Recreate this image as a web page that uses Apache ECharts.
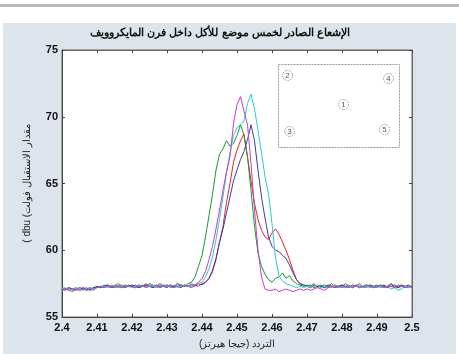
<!DOCTYPE html>
<html>
<head>
<meta charset="utf-8">
<script src="https://cdn.jsdelivr.net/npm/echarts@6/dist/echarts.min.js"></script>
<style>html,body{margin:0;padding:0;background:#fff}#c{width:459px;height:354px}</style>
</head>
<body>
<div id="c"></div>
<script>
var titleText = 'الإشعاع الصادر لخمس موضع للأكل داخل فرن المايكروويف';
var xName = 'التردد (جيجا هيرتز)';
var yName = '\u202Bمقدار الاستقبال فولت) dbu )\u202C';
var xTickLabels = ['2.4','2.41','2.42','2.43','2.44','2.45','2.46','2.47','2.48','2.49','2.5'];
var yTickLabels = ['55','60','65','70','75'];
var freqStart = 2.400, freqStep = 0.001;

var red = [57.1,57.0,57.2,57.1,57.0,57.1,57.2,57.1,57.0,57.2,
57.2,57.3,57.2,57.4,57.3,57.2,57.3,57.4,57.2,57.3,
57.3,57.4,57.2,57.3,57.5,57.3,57.2,57.4,57.3,57.3,
57.4,57.2,57.3,57.5,57.3,57.4,57.3,57.2,57.4,57.3,
57.5,57.6,57.9,58.4,59.3,60.6,61.8,63.6,65.0,66.6,
67.5,68.2,68.7,67.0,65.2,63.5,62.3,61.5,61.0,60.8,
61.3,61.6,61.2,60.6,60.0,59.3,58.5,57.8,57.5,57.4,
57.3,57.4,57.2,57.3,57.4,57.2,57.3,57.5,57.3,57.2,
57.4,57.3,57.2,57.4,57.3,57.5,57.2,57.3,57.4,57.3,
57.2,57.4,57.3,57.2,57.5,57.3,57.2,57.4,57.3,57.2,57.3];

var green = [57.2,57.1,57.0,57.1,57.2,57.0,57.1,57.1,57.2,57.0,
57.3,57.2,57.4,57.3,57.2,57.3,57.5,57.3,57.2,57.4,
57.3,57.2,57.4,57.3,57.3,57.5,57.4,57.2,57.3,57.4,
57.3,57.4,57.2,57.5,57.4,57.3,57.5,57.6,58.0,58.8,
59.6,61.0,62.6,64.2,66.0,67.2,67.6,68.2,67.8,68.0,
68.6,69.4,68.6,67.0,64.5,61.8,59.8,58.8,58.2,57.8,
57.6,57.9,58.0,58.3,57.9,58.1,57.7,57.5,57.4,57.3,
57.4,57.3,57.5,57.2,57.3,57.4,57.3,57.2,57.4,57.3,
57.3,57.5,57.3,57.2,57.4,57.3,57.3,57.2,57.4,57.3,
57.4,57.2,57.3,57.3,57.5,57.2,57.3,57.4,57.2,57.3,57.3];

var blue = [57.0,57.1,57.2,57.0,57.1,57.2,57.1,57.0,57.1,57.2,
57.3,57.2,57.3,57.4,57.2,57.3,57.3,57.2,57.4,57.3,
57.4,57.3,57.2,57.3,57.4,57.3,57.2,57.3,57.5,57.3,
57.2,57.4,57.3,57.3,57.2,57.4,57.3,57.4,57.3,57.5,
57.4,57.6,57.9,58.5,59.4,60.6,61.6,62.8,64.0,65.2,
66.0,66.8,67.4,68.3,69.4,68.2,66.0,64.0,62.4,61.0,
60.3,60.0,59.9,59.6,59.4,58.9,58.3,57.8,57.5,57.4,
57.3,57.2,57.4,57.3,57.3,57.2,57.4,57.3,57.2,57.3,
57.4,57.2,57.3,57.3,57.4,57.2,57.3,57.4,57.3,57.2,
57.3,57.3,57.4,57.2,57.3,57.4,57.2,57.3,57.3,57.4,57.2];

var cyan = [57.1,57.2,57.0,57.1,57.1,57.2,57.0,57.1,57.2,57.1,
57.2,57.3,57.3,57.2,57.4,57.3,57.2,57.3,57.4,57.3,
57.2,57.3,57.4,57.3,57.2,57.4,57.3,57.3,57.2,57.4,
57.3,57.3,57.4,57.2,57.3,57.4,57.3,57.3,57.4,57.5,
57.6,58.0,58.6,59.5,60.8,62.3,64.0,65.8,67.3,68.6,
69.2,69.4,69.7,71.0,71.7,70.6,69.0,67.3,65.5,64.2,
62.0,59.4,58.1,57.7,57.5,57.4,57.3,57.2,57.3,57.2,
57.3,57.2,57.3,57.4,57.2,57.3,57.2,57.3,57.4,57.2,
57.3,57.2,57.3,57.2,57.4,57.3,57.2,57.3,57.2,57.3,
57.2,57.3,57.2,57.3,57.1,57.2,57.0,57.1,57.3,57.2,57.3];

var magenta = [57.0,57.1,57.0,56.9,57.1,57.0,57.1,57.2,57.0,57.1,
57.2,57.3,57.2,57.3,57.2,57.4,57.3,57.2,57.3,57.3,
57.3,57.2,57.3,57.4,57.2,57.3,57.3,57.4,57.2,57.3,
57.4,57.3,57.2,57.3,57.4,57.3,57.3,57.5,57.4,57.6,
57.9,58.4,59.3,60.3,61.6,63.0,64.5,65.9,67.0,69.5,
70.9,71.5,70.4,69.4,66.5,63.0,60.0,58.0,57.1,57.0,
57.0,57.1,56.9,57.0,57.1,57.0,56.9,57.0,57.1,57.0,
57.1,57.0,57.1,57.2,57.1,57.0,57.2,57.3,57.2,57.3,
57.2,57.3,57.4,57.2,57.3,57.2,57.3,57.4,57.3,57.2,
57.3,57.4,57.2,57.3,57.3,57.2,57.4,57.3,57.2,57.3,57.3];

var seriesList = [
  {name:'red', data:red, color:'#ee2020'},
  {name:'green', data:green, color:'#1a9a2a'},
  {name:'blue', data:blue, color:'#3a3ab8'},
  {name:'cyan', data:cyan, color:'#30c8cc'},
  {name:'magenta', data:magenta, color:'#c040c8'}
];

function pairs(arr){
  return arr.map(function(v,i){ return [+(freqStart + i*freqStep).toFixed(3), v]; });
}

var chart = echarts.init(document.getElementById('c'), null, {renderer:'canvas'});
var F = 'Liberation Sans, Arial, sans-serif';
var GL = 62, GT = 50, GW = 350, GH = 274;
var xLabelFmt = function(v){ var i = Math.round((v - 2.4)/0.01); return xTickLabels[i] || ''; };
var yLabelFmt = function(v){ var i = Math.round((v - 55)/5); return yTickLabels[i] || ''; };

chart.setOption({
  backgroundColor:'#ffffff',
  animation:false,
  graphic:[
    {type:'rect', z:-10, shape:{x:0,y:4,width:459,height:3}, style:{fill:'#b8b8b8'}},
    {type:'rect', z:-10, shape:{x:3,y:23,width:453,height:331}, style:{fill:'#dee4eb'}},
    {type:'text', x:220, y:33, style:{text:titleText, font:'bold 11px '+F, fill:'#111', align:'center', verticalAlign:'middle'}},
    {type:'group', left:278, top:64, z:100, children:[
      {type:'rect', shape:{x:0,y:0,width:121,height:83}, style:{fill:'#fff', stroke:'#999', lineDash:[2,1], lineWidth:1}},
      {type:'circle', shape:{cx:9,cy:11,r:5}, style:{fill:'#fff', stroke:'#888', lineDash:[1,1]}},
      {type:'text', x:9, y:11, style:{text:'2', font:'8px '+F, fill:'#555', align:'center', verticalAlign:'middle'}},
      {type:'circle', shape:{cx:110,cy:14,r:5}, style:{fill:'#fff', stroke:'#888', lineDash:[1,1]}},
      {type:'text', x:110, y:14, style:{text:'4', font:'8px '+F, fill:'#555', align:'center', verticalAlign:'middle'}},
      {type:'circle', shape:{cx:65,cy:40,r:5}, style:{fill:'#fff', stroke:'#888', lineDash:[1,1]}},
      {type:'text', x:65, y:40, style:{text:'1', font:'8px '+F, fill:'#555', align:'center', verticalAlign:'middle'}},
      {type:'circle', shape:{cx:11,cy:67,r:5}, style:{fill:'#fff', stroke:'#888', lineDash:[1,1]}},
      {type:'text', x:11, y:67, style:{text:'3', font:'8px '+F, fill:'#555', align:'center', verticalAlign:'middle'}},
      {type:'circle', shape:{cx:106,cy:65,r:5}, style:{fill:'#fff', stroke:'#888', lineDash:[1,1]}},
      {type:'text', x:106, y:65, style:{text:'5', font:'8px '+F, fill:'#555', align:'center', verticalAlign:'middle'}}
    ]}
  ],
  grid:{left:GL, top:GT, width:GW, height:GH, show:true, backgroundColor:'#ffffff', borderColor:'#666', borderWidth:1},
  xAxis:[
    {type:'value', min:2.4, max:2.5, interval:0.01, position:'bottom',
     name:xName, nameLocation:'middle', nameGap:22,
     nameTextStyle:{fontSize:10, color:'#222', fontFamily:F},
     axisLine:{show:true, lineStyle:{color:'#444', width:1}},
     axisTick:{show:true, inside:true, length:3, lineStyle:{color:'#444'}},
     axisLabel:{formatter:xLabelFmt, fontWeight:'bold', fontSize:11, fontFamily:F, color:'#111', margin:5, showMinLabel:true, showMaxLabel:true},
     splitLine:{show:false}},
    {type:'value', min:2.4, max:2.5, interval:0.01, position:'top',
     axisLine:{show:true, lineStyle:{color:'#666'}},
     axisTick:{show:true, inside:true, length:3, lineStyle:{color:'#444'}},
     axisLabel:{show:false}, splitLine:{show:false}}
  ],
  yAxis:[
    {type:'value', min:55, max:75, interval:5, position:'left',
     name:yName, nameLocation:'middle', nameGap:30, nameRotate:90,
     nameTextStyle:{fontSize:10, color:'#222', fontFamily:F},
     axisLine:{show:true, lineStyle:{color:'#444'}},
     axisTick:{show:true, inside:true, length:3, lineStyle:{color:'#444'}},
     axisLabel:{formatter:yLabelFmt, fontWeight:'bold', fontSize:11, fontFamily:F, color:'#111', margin:4},
     splitLine:{show:false}},
    {type:'value', min:55, max:75, interval:5, position:'right',
     axisLine:{show:true, lineStyle:{color:'#666'}},
     axisTick:{show:true, inside:true, length:3, lineStyle:{color:'#444'}},
     axisLabel:{show:false}, splitLine:{show:false}}
  ],
  series: seriesList.map(function(s){
    return {type:'line', name:s.name, data:pairs(s.data), showSymbol:false, symbol:'none',
      lineStyle:{color:s.color, width:1}, itemStyle:{color:s.color}, xAxisIndex:0, yAxisIndex:0};
  })
});
</script>
</body>
</html>
